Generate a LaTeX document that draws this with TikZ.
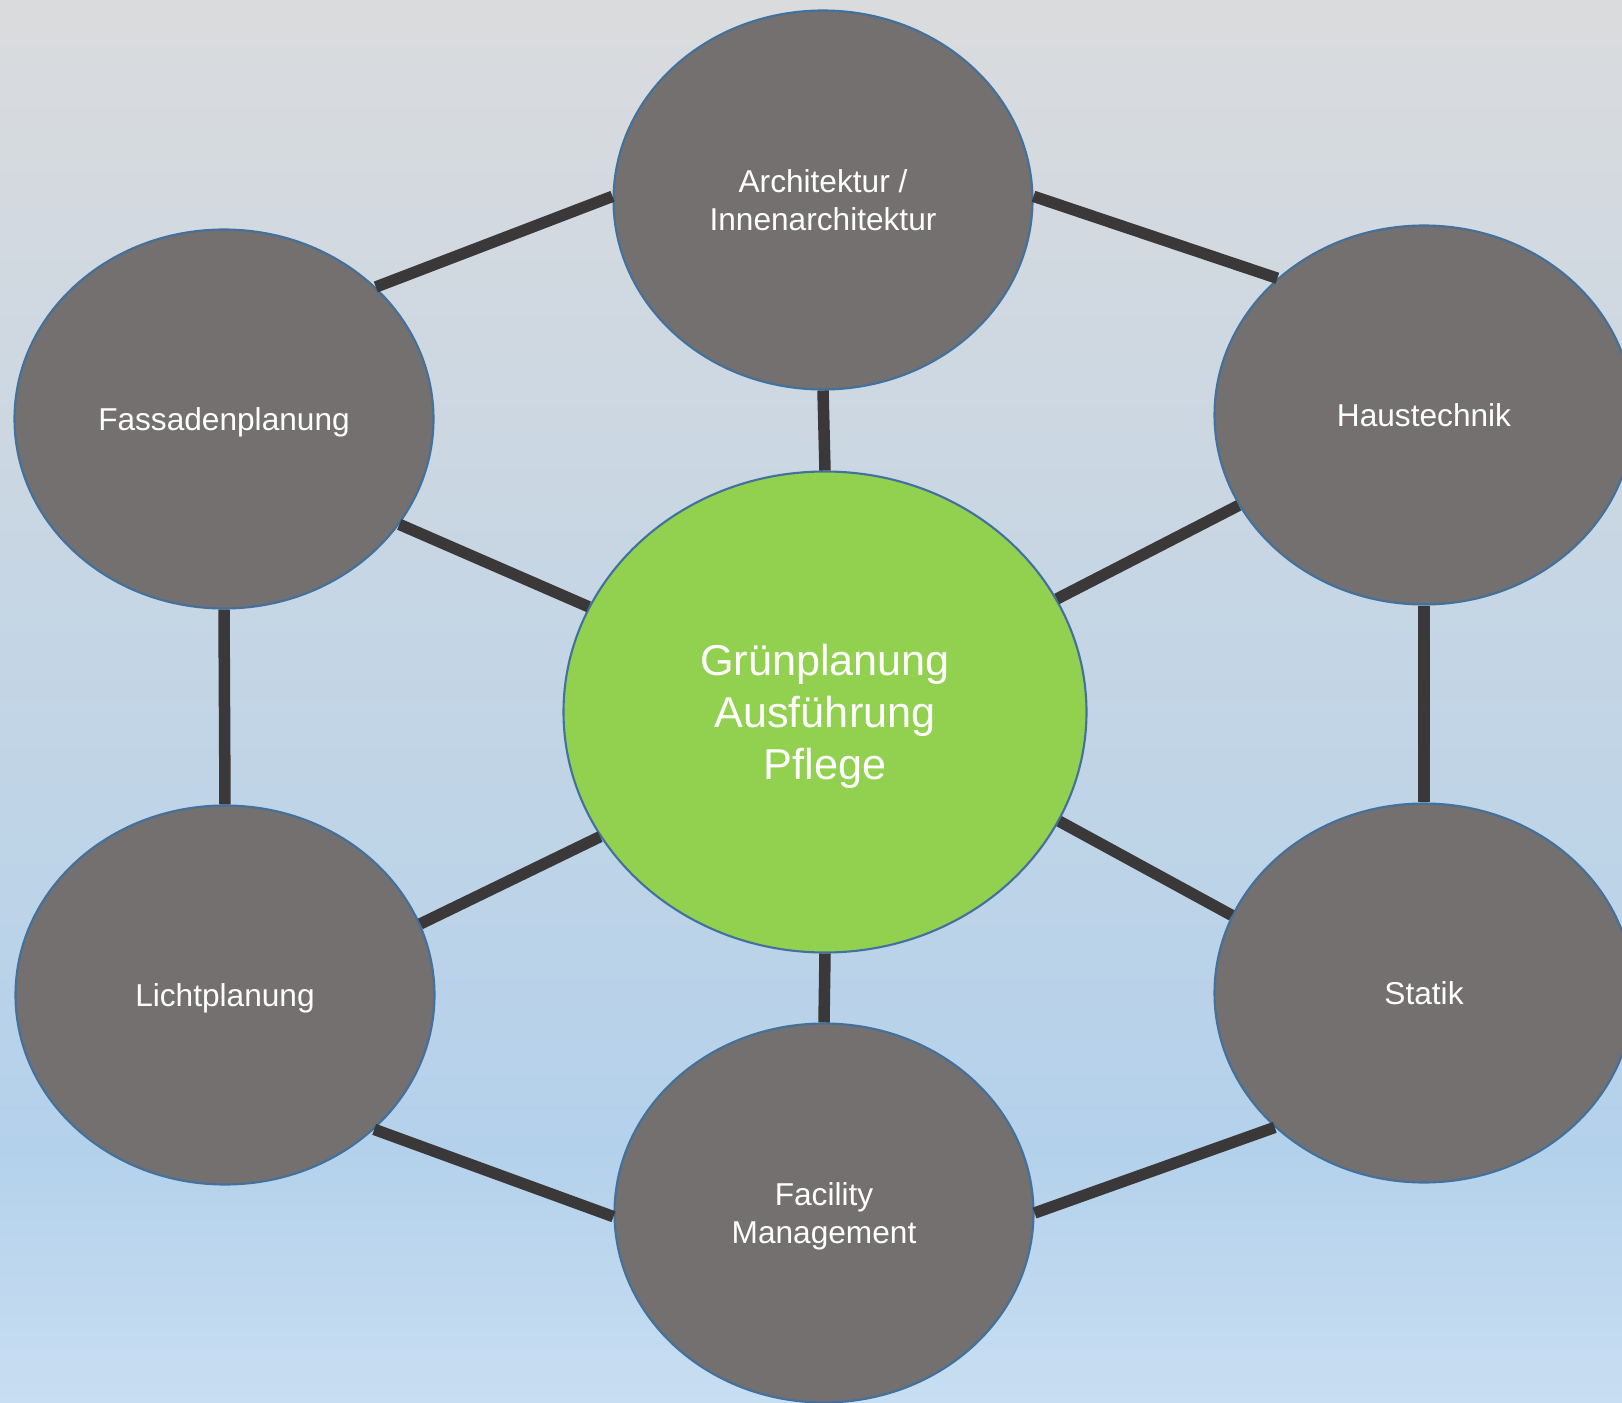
\documentclass[tikz,border=0pt]{standalone}
\usepackage{fontspec}
\setmainfont{Liberation Sans}
\usetikzlibrary{shapes.geometric}
\definecolor{bggray}{RGB}{218,219,221}
\definecolor{bgblue}{RGB}{180,209,235}
\definecolor{bglight}{RGB}{200,222,242}
\definecolor{nodegray}{RGB}{115,112,111}
\definecolor{rimblue}{RGB}{65,113,156}
\definecolor{leafgreen}{RGB}{146,208,80}
\definecolor{barcol}{RGB}{58,56,56}

\begin{document}
\begin{tikzpicture}[
    topic/.style={ellipse, draw=rimblue, line width=0.6pt, fill=nodegray, text=white,
        minimum width=4.19cm, minimum height=3.79cm, inner sep=0pt, align=center,
        text depth=0pt, font=\fontsize{9}{11}\selectfont},
    core/.style={topic, fill=leafgreen, minimum width=5.23cm, minimum height=4.81cm,
        font=\fontsize{12.3}{14.8}\selectfont},
    link/.style={barcol, line width=0.115cm}]
    \useasboundingbox (0,0) rectangle (16.22,-14.03);
    \shade [top color=bggray, bottom color=bgblue] (0,0) rectangle (16.22,-11.5);
    \shade [top color=bgblue, bottom color=bglight] (0,-11.48) rectangle (16.22,-14.03);

    \node [core] (gruen) at (8.25,-7.12) {Grünplanung\\Ausführung\\Pflege};
    \node [topic] (archi) at (8.23,-2.00) {Architektur /\\Innenarchitektur};
    \node [topic] (fassade) at (2.24,-4.19) {Fassadenplanung};
    \node [topic] (haus) at (14.24,-4.15) {Haustechnik};
    \node [topic] (licht) at (2.25,-9.95) {Lichtplanung};
    \node [topic] (statik) at (14.24,-9.93) {Statik};
    \node [topic] (facility) at (8.24,-12.13) {Facility\\Management};

    \draw [link] (archi.179) -- (fassade.41);
    \draw [link] (archi.1) -- (haus.137);
    \draw [link] (archi.south) -- (gruen.north);
    \draw [link] (fassade.-31) -- (gruen.156);
    \draw [link] (gruen.26) -- (haus.206);
    \draw [link] (haus.south) -- (statik.north);
    \draw [link] (gruen.-25) -- (statik.158);
    \draw [link] (gruen.209) -- (licht.20);
    \draw [link] (fassade.south) -- (licht.north);
    \draw [link] (gruen.south) -- (facility.north);
    \draw [link] (licht.-42) -- (facility.181);
    \draw [link] (facility.0) -- (statik.222);
\end{tikzpicture}
\end{document}
